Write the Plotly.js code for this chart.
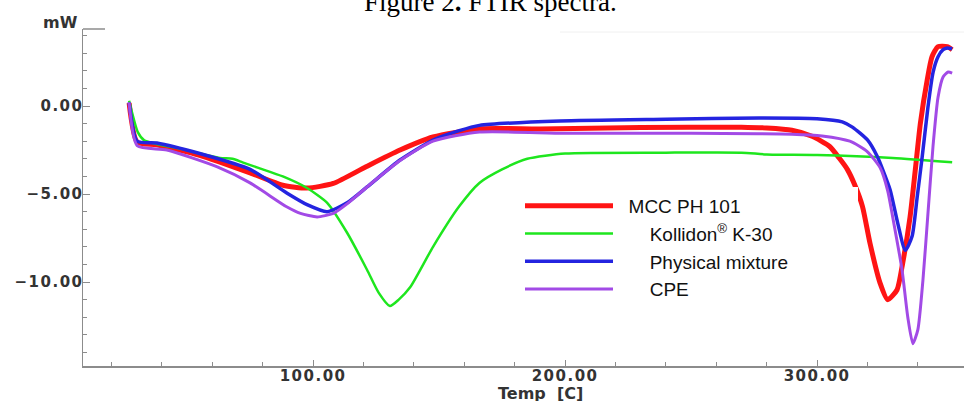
<!DOCTYPE html>
<html>
<head>
<meta charset="utf-8">
<script src="https://cdn.plot.ly/plotly-3.0.1.min.js"></script>
<style>
  html, body { margin: 0; padding: 0; background: #fff; }
  #chart { width: 964px; height: 401px; }
  .xtick text, .ytick text { letter-spacing: 1.5px; }
</style>
</head>
<body>
<div id="chart"></div>
<script>
// ---- Data (Temp in C, heat flow in mW) ----
const seriesNames = ["MCC PH 101", "Kollidon<sup>®</sup> K-30", "Physical mixture", "CPE"];

const mccTemp = [27, 30.2, 38, 55, 75, 88, 97.6, 108, 121, 134.5, 147.6, 166, 190, 230, 270, 280, 290, 298, 305, 309, 312, 315, 318, 321, 325, 328, 331.7, 334, 336.9, 339, 341, 343.7, 345.6, 348, 351.6, 353.6];
const mccFlow = [0.17, -2.05, -2.2, -2.8, -3.8, -4.5, -4.66, -4.4, -3.45, -2.5, -1.76, -1.3, -1.3, -1.22, -1.2, -1.25, -1.38, -1.72, -2.3, -3.0, -3.6, -4.5, -5.7, -7.8, -10.06, -11.0, -10.45, -8.9, -6.3, -3.6, -0.97, 1.48, 2.8, 3.37, 3.37, 3.2];

const kolTemp = [27, 30.5, 33, 48, 63, 68, 72, 78, 88, 97.6, 105.6, 113.5, 121.4, 126, 130.5, 134, 138.5, 147.6, 158, 166, 175, 185, 200, 240, 270, 280, 300, 330, 353.6];
const kolFlow = [0.3, -1.5, -1.95, -2.45, -2.95, -3.0, -3.2, -3.5, -4.0, -4.66, -5.5, -7.2, -9.3, -10.6, -11.36, -11.0, -10.3, -8.0, -5.7, -4.37, -3.6, -3.0, -2.7, -2.65, -2.65, -2.75, -2.78, -2.95, -3.2];

const pmTemp = [27, 30.2, 38, 55, 75, 89.7, 97.6, 105.6, 113.5, 121.4, 134.5, 147.6, 158, 166, 198, 240, 277, 300, 310, 314, 320, 324, 326, 329, 332, 335, 337.7, 339.7, 341.7, 344, 346, 348, 350, 351.6, 353.6];
const pmFlow = [0.2, -2.0, -2.1, -2.7, -3.6, -4.95, -5.6, -6.0, -5.5, -4.6, -3.07, -1.93, -1.4, -1.1, -0.85, -0.75, -0.68, -0.72, -0.9, -1.2, -1.93, -2.9, -3.6, -4.77, -6.65, -8.2, -7.4, -5.2, -2.9, -0.06, 1.9, 2.8, 3.2, 3.3, 3.25];

const cpeTemp = [27, 30.2, 42, 62, 75, 89.7, 95, 101.6, 108, 114, 121.4, 134.5, 147.6, 166, 200, 250, 290, 302, 313, 320, 325, 328, 330, 333.7, 336, 338, 340, 342, 344, 346, 348, 350, 352, 353.6];
const cpeFlow = [0.2, -2.25, -2.5, -3.46, -4.37, -5.74, -6.1, -6.3, -6.1, -5.5, -4.6, -3.1, -2.0, -1.48, -1.55, -1.55, -1.6, -1.7, -2.0, -2.6, -3.5, -4.8, -6.3, -9.3, -12.0, -13.5, -12.7, -9.9, -6.1, -2.3, 0.5, 1.65, 1.93, 1.87];

const xTickVals = [100, 200, 300];
const yTickVals = [-10, -5, 0];

// ---- Styling ----
const colors = ["#ff1414", "#1ee61e", "#2424e0", "#a24ae6"];
const widths = [5, 2.5, 3.5, 3];
const xs = [mccTemp, kolTemp, pmTemp, cpeTemp];
const ys = [mccFlow, kolFlow, pmFlow, cpeFlow];
const prefixes = ["\u00a0\u00a0", "\u00a0\u00a0\u00a0\u00a0\u00a0\u00a0", "\u00a0\u00a0\u00a0\u00a0\u00a0\u00a0", "\u00a0\u00a0\u00a0\u00a0\u00a0\u00a0"];

const traces = seriesNames.map((n, i) => ({
  type: "scatter",
  mode: "lines",
  x: xs[i],
  y: ys[i],
  name: prefixes[i] + n,
  line: { color: colors[i], width: widths[i], shape: "spline", smoothing: 0.6 },
  hoverinfo: "skip"
}));

const W = 964, H = 401, ML = 83, MR = 0, MT = 29, MB = 35;
const PW = W - ML - MR, PH = H - MT - MB;
const px2x = p => (p - ML) / PW;
const py2y = p => 1 - (p - MT) / PH;

const axisColor = "#8c8c8c";
const tickFont = { family: "DejaVu Sans", size: 15, color: "#333333", weight: "bold" };

const layout = {
  width: W, height: H,
  margin: { l: ML, r: MR, t: MT, b: MB, pad: 0 },
  paper_bgcolor: "#ffffff",
  plot_bgcolor: "#ffffff",
  showlegend: true,
  legend: {
    x: px2x(520), y: py2y(187), xanchor: "left", yanchor: "top",
    bgcolor: "rgba(255,255,255,0)", borderwidth: 0,
    itemwidth: 88,
    font: { family: "Liberation Sans", size: 19, color: "#111111" },
    tracegroupgap: 0
  },
  xaxis: {
    range: [8.7, 358.3],
    showgrid: false, zeroline: false,
    showline: true, linecolor: axisColor, linewidth: 1.5,
    ticks: "inside", ticklen: 6, tickcolor: axisColor, tickwidth: 1,
    tickmode: "array", tickvals: xTickVals, tickformat: ".2f",
    tickfont: tickFont, ticklabelstandoff: -5,
    minor: { dtick: 20, tick0: 0, ticks: "inside", ticklen: 4, tickcolor: axisColor, showgrid: false },
    fixedrange: true
  },
  yaxis: {
    range: [-14.77, 4.375],
    showgrid: false, zeroline: false,
    showline: true, linecolor: axisColor, linewidth: 1.5,
    ticks: "inside", ticklen: 7, tickcolor: axisColor, tickwidth: 1,
    tickmode: "array", tickvals: yTickVals, tickformat: ".2f",
    tickfont: tickFont, ticklabelstandoff: -5,
    minor: { dtick: 1, tick0: 0, ticks: "inside", ticklen: 4, tickcolor: axisColor, showgrid: false },
    fixedrange: true
  },
  shapes: [
    { type: "rect", xref: "paper", yref: "paper", layer: "above",
      x0: px2x(520), x1: px2x(858), y0: py2y(312), y1: py2y(187),
      fillcolor: "#ffffff", line: { width: 0 } },
    { type: "line", xref: "paper", yref: "paper", layer: "above",
      x0: 0, x1: px2x(105), y0: 1, y1: 1,
      line: { color: axisColor, width: 1.5 } },
    { type: "line", xref: "paper", yref: "paper", layer: "below",
      x0: px2x(560), x1: 1, y0: py2y(32), y1: py2y(32),
      line: { color: "#f0f0f0", width: 1 } }
  ],
  annotations: [
    { text: "Figure 2<b>.</b> FTIR spectra.", xref: "paper", yref: "paper",
      x: px2x(490), y: py2y(2), xanchor: "center", yanchor: "middle",
      showarrow: false, font: { family: "Liberation Serif", size: 27, color: "#000000" } },
    { text: "mW", xref: "paper", yref: "paper",
      x: px2x(60), y: py2y(22), xanchor: "center", yanchor: "middle",
      showarrow: false, font: { family: "DejaVu Sans", size: 16, color: "#333333", weight: "bold" } },
    { text: "Temp  [C]", xref: "paper", yref: "paper",
      x: px2x(540), y: py2y(393.5), xanchor: "center", yanchor: "middle",
      showarrow: false, font: { family: "DejaVu Sans", size: 16, color: "#333333", weight: "bold" } }
  ]
};

Plotly.newPlot("chart", traces, layout, { staticPlot: true, displayModeBar: false });
</script>
</body>
</html>
